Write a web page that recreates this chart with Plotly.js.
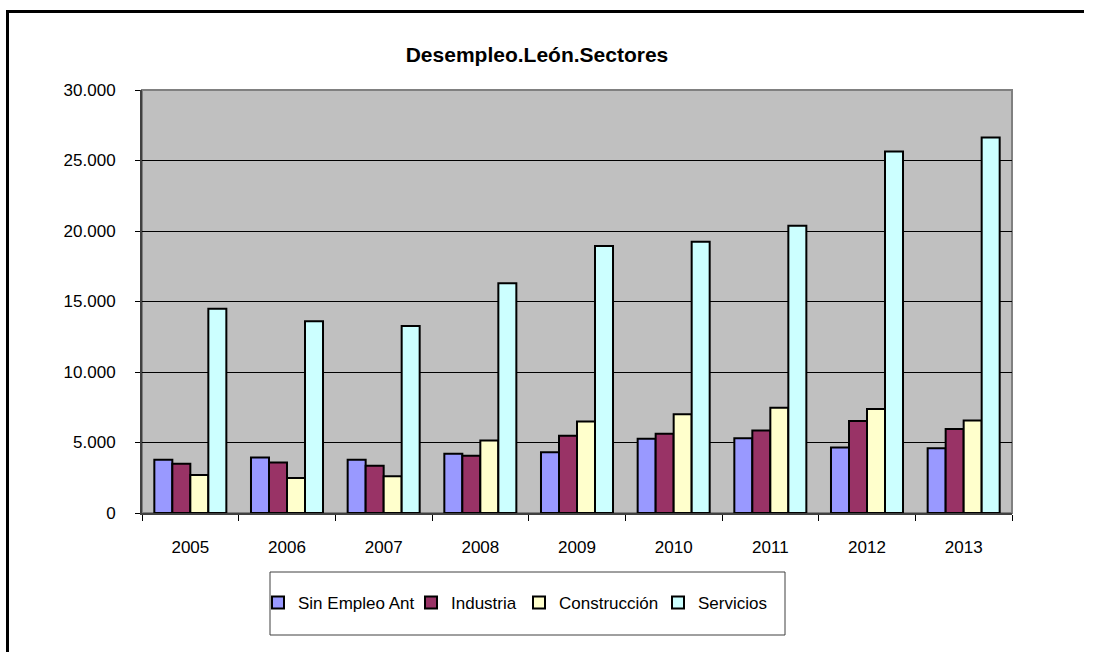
<!DOCTYPE html>
<html>
<head>
<meta charset="utf-8">
<script src="https://cdn.plot.ly/plotly-3.0.1.min.js"></script>
<style>
html,body{margin:0;padding:0;background:#fff;overflow:hidden;}
#wrap{position:relative;width:1094px;height:652px;overflow:hidden;}
#chart{width:1094px;height:652px;}
#frameTop{position:absolute;left:6px;top:10px;width:1078px;height:3px;background:#000;pointer-events:none;}
#frameLeft{position:absolute;left:6px;top:10px;width:3px;height:642px;background:#000;pointer-events:none;}
</style>
</head>
<body>
<div id="wrap">
<div id="chart"></div>
<div id="frameTop"></div>
<div id="frameLeft"></div>
</div>
<script>
var years = ['2005','2006','2007','2008','2009','2010','2011','2012','2013'];
var sinEmpleoAnt = [3780, 3940, 3780, 4200, 4300, 5270, 5310, 4650, 4600];
var industria    = [3490, 3590, 3350, 4060, 5480, 5620, 5850, 6520, 5950];
var construccion = [2690, 2480, 2600, 5150, 6490, 7010, 7460, 7370, 6560];
var servicios    = [14480, 13600, 13270, 16300, 18940, 19230, 20380, 25630, 26640];
var seriesNames  = ['Sin Empleo Ant', 'Industria', 'Construcción', 'Servicios'];
var yTicks = [0, 5000, 10000, 15000, 20000, 25000, 30000];

// styles
var seriesColors = ['#9999FF', '#993366', '#FFFFCC', '#CCFFFF'];
var legendWidths = [108, 63, 94, 70];

var FONT = '"Liberation Sans", Arial, sans-serif';
var W = 1094, H = 652;
var mL = 142, mR = 82, mT = 90, mB = 139;
var pw = W - mL - mR, ph = H - mT - mB;
function px2x(p){ return (p - mL) / pw; }
function py2y(p){ return (H - mB - p) / ph; }

var allSeries = [sinEmpleoAnt, industria, construccion, servicios];
var traces = allSeries.map(function(vals, i){
  return {
    type: 'bar',
    name: seriesNames[i],
    x: years,
    y: vals,
    legendwidth: legendWidths[i],
    marker: {color: seriesColors[i], line: {color: '#000000', width: 2}},
    hoverinfo: 'x+y+name'
  };
});

var layout = {
  width: W, height: H,
  margin: {l: mL, r: mR, t: mT, b: mB, pad: 0},
  paper_bgcolor: '#FFFFFF',
  plot_bgcolor: '#C0C0C0',
  separators: ',.',
  font: {family: FONT, size: 17, color: '#000000'},
  title: {
    text: 'Desempleo.León.Sectores',
    font: {family: FONT, size: 21, color: '#000000', weight: 'bold'},
    xref: 'container', yref: 'container',
    x: 537 / W, y: 1 - 55 / H, xanchor: 'center', yanchor: 'middle'
  },
  barmode: 'group',
  bargap: 0.255,
  bargroupgap: 0,
  showlegend: true,
  legend: {
    orientation: 'h',
    x: px2x(258), xanchor: 'left',
    y: py2y(603), yanchor: 'middle',
    bgcolor: 'rgba(0,0,0,0)',
    borderwidth: 0,
    font: {family: FONT, size: 17, color: '#000000'},
    itemclick: false, itemdoubleclick: false
  },
  xaxis: {
    type: 'category',
    showgrid: false,
    showline: true, linecolor: '#404040', linewidth: 2,
    ticks: 'outside', tickson: 'boundaries', ticklen: 6, tickcolor: '#000000', tickwidth: 1,
    tickfont: {family: FONT, size: 17, color: '#000000'},
    ticklabelstandoff: 18,
    zeroline: false
  },
  yaxis: {
    range: [0, 30000],
    tickvals: yTicks,
    tickformat: ',d',
    showgrid: true, gridcolor: '#000000', gridwidth: 1,
    showline: true, linecolor: '#404040', linewidth: 2,
    ticks: 'outside', ticklen: 5, tickcolor: '#000000', tickwidth: 1,
    tickfont: {family: FONT, size: 17, color: '#000000'},
    ticklabelstandoff: 16,
    zeroline: false
  },
  shapes: [
    {type: 'rect', xref: 'paper', yref: 'paper', x0: 0, x1: 1, y0: 0, y1: 1,
     line: {color: '#808080', width: 2}, fillcolor: 'rgba(0,0,0,0)', layer: 'below'},
    {type: 'rect', xref: 'paper', yref: 'paper',
     x0: px2x(270), x1: px2x(785), y0: py2y(635), y1: py2y(572),
     line: {color: '#404040', width: 1}, fillcolor: 'rgba(0,0,0,0)'}
  ]
};

Plotly.newPlot('chart', traces, layout, {displayModeBar: false, responsive: false});
</script>
</body>
</html>
